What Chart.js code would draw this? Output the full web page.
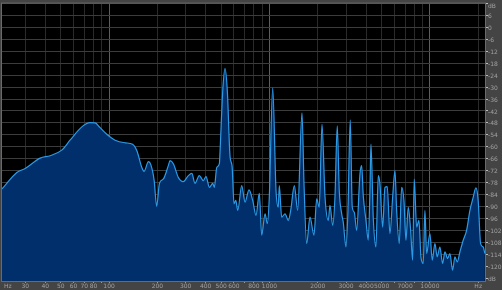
<!DOCTYPE html>
<html>
<head>
<meta charset="utf-8">
<script src="https://cdn.jsdelivr.net/npm/chart.js@4.4.0/dist/chart.umd.min.js"></script>
<style>
  html, body { margin: 0; padding: 0; background: #444; }
  canvas { display: block; }
</style>
</head>
<body>
<canvas id="spectrum" width="502" height="290"></canvas>
<script>
// frequency (Hz) and level (dB)
const freqs = [
  21.5, 26.6, 30, 37.2, 42.9, 50.7, 57.1, 67.6, 76.1, 81.8, 87.9, 96.8, 109, 126, 140, 149,
  160, 165, 176, 182, 191, 198, 206, 218, 234, 240, 252, 270, 290, 312, 328, 343, 365, 387,
  402, 422, 443, 453, 469, 487, 492, 511, 528, 546, 568, 584, 601, 616, 634, 671, 704, 745,
  786, 824, 864, 894, 938, 969, 997, 1047, 1098, 1134, 1151, 1191, 1250, 1310, 1356, 1428,
  1499, 1594, 1641, 1705, 1788, 1894, 1969, 2043, 2124, 2218, 2325, 2382, 2477, 2559, 2645,
  2722, 2818, 2883, 2997, 3084, 3187, 3280, 3376, 3494, 3664, 3754, 3841, 3993, 4127, 4229,
  4290, 4434, 4609, 4764, 4882, 5075, 5245, 5420, 5634, 5857, 6054, 6203, 6439, 6665, 6887,
  7088, 7326, 7583, 7803, 7985, 8264, 8543, 8791, 9087, 9309, 9537, 10000, 10340, 10745,
  11105, 11543, 11995, 12404, 12893, 13323, 13850, 14317, 14799, 15381, 16128, 16934, 17758,
  18616, 19352, 19991, 20698, 21486, 22020
];
const levels = [
  -81.2, -72.9, -70.9, -65.7, -64.5, -61.7, -56.7, -50, -47.9, -48, -50.4, -53.7, -56.7, -58, -58.7, -62,
  -70.4, -72.4, -67.5, -69, -77, -90, -78.4, -76.2, -69.5, -67, -68.7, -75.4, -77.5, -74.5, -73.4, -78.4, -74.5, -77,
  -75, -80.4, -78.4, -80.4, -70.4, -68.5, -62, -32, -20.7, -32, -65.3, -69.5, -88.7, -87, -92, -79.5, -87.8, -81.7,
  -87, -94.5, -83.4, -104.5, -93.7, -98.7, -85.4, -30.4, -82, -90.4, -79.5, -95.4, -93.7, -97, -92, -79.5,
  -92, -42.9, -78.7, -108.7, -95.4, -104.5, -86.2, -90.4, -48.7, -85, -97, -89.5, -99.5, -85.4, -49.5,
  -82, -93.7, -97.9, -110.4, -92, -46.5, -90.4, -92.9, -102, -73.7, -69.5, -84.5, -97, -107, -82,
  -58.7, -95.4, -110.4, -74.5, -78.7, -100.4, -80.4, -80, -103.7, -85.4, -72, -92, -108.7, -80.4, -87,
  -107, -90.4, -102, -117, -76.2, -100.4, -97, -115.4, -118.7, -92, -113.7, -103.7, -117, -108.7,
  -115.4, -110.4, -118.7, -112.9, -116.2, -113.7, -122, -115.4, -117.9, -112.9, -107, -102, -92,
  -85.4, -80.7, -87, -108.7, -110.4, -113.7
];

const xTicks = [30, 40, 50, 60, 70, 80, 90, 100, 200, 300, 400, 500, 600, 700, 800, 900,
  1000, 2000, 3000, 4000, 5000, 6000, 7000, 8000, 9000, 10000, 20000];
const xLabels = {30: '30', 40: '40', 50: '50', 60: '60', 70: '70', 80: '80', 100: '100',
  200: '200', 300: '300', 400: '400', 500: '500', 600: '600', 800: '800', 1000: '1000',
  2000: '2000', 3000: '3000', 4000: '4000', 5000: '5000', 7000: '7000', 10000: '10000', 20000: 'Hz'};
const decades = [100, 1000, 10000];
const yTicks = [12, 6, 0, -6, -12, -18, -24, -30, -36, -42, -48, -54, -60, -66, -72, -78,
  -84, -90, -96, -102, -108, -114, -120, -126];

const labelFont = { family: 'DejaVu Sans', size: 6 };
const labelColor = '#a0a0a0';

const plotBackground = {
  id: 'plotBackground',
  beforeDraw(chart) {
    const { ctx, chartArea: a } = chart;
    ctx.save();
    ctx.fillStyle = '#444';
    ctx.fillRect(0, 0, chart.width, chart.height);
    ctx.fillStyle = '#000';
    ctx.fillRect(a.left, a.top, a.right - a.left, a.bottom - a.top);
    ctx.restore();
  },
  afterDatasetsDraw(chart) {
    const { ctx, chartArea: a, scales } = chart;
    ctx.save();
    ctx.strokeStyle = '#6a6a6a';
    ctx.lineWidth = 1;
    ctx.strokeRect(a.left - 0.5, a.top - 0.5, a.right - a.left + 1, a.bottom - a.top + 1);
    // unit labels that sit where no tick label goes
    ctx.font = labelFont.size + 'px ' + labelFont.family;
    ctx.fillStyle = labelColor;
    ctx.textBaseline = 'middle';
    ctx.textAlign = 'left';
    ctx.fillText('dB', a.right + 3, scales.y.getPixelForValue(12) + 3);
    ctx.fillText('Hz', a.left + 2, a.bottom + 5);
    ctx.restore();
  }
};

new Chart(document.getElementById('spectrum'), {
  type: 'line',
  data: {
    datasets: [{
      data: freqs.map((f, i) => ({ x: f, y: levels[i] })),
      borderColor: '#2b9be8',
      backgroundColor: '#002f6c',
      borderWidth: 1.2,
      fill: 'start',
      pointRadius: 0,
      cubicInterpolationMode: 'monotone'
    }]
  },
  options: {
    responsive: false,
    animation: false,
    layout: { padding: { left: 2, top: 2, right: 0, bottom: 0 } },
    plugins: { legend: { display: false }, tooltip: { enabled: false } },
    scales: {
      x: {
        type: 'logarithmic',
        min: 21.5,
        max: 22050,
        afterBuildTicks: s => { s.ticks = xTicks.map(v => ({ value: v })); },
        afterFit: s => { s.height = 9; },
        ticks: {
          autoSkip: false,
          maxRotation: 0,
          minRotation: 0,
          padding: 0,
          font: labelFont,
          color: labelColor,
          callback: v => xLabels[v] || ''
        },
        grid: {
          color: c => decades.includes(c.tick && c.tick.value) ? '#5e5e5e' : '#2a2a2a',
          tickColor: '#9a9a9a',
          tickLength: 2
        },
        border: { color: '#6a6a6a' }
      },
      y: {
        position: 'right',
        min: -127.5,
        max: 12,
        afterBuildTicks: s => { s.ticks = yTicks.map(v => ({ value: v })); },
        afterFit: s => { s.width = 17; },
        ticks: {
          padding: 0,
          font: labelFont,
          color: labelColor,
          labelOffset: 1,
          callback: v => v === 12 ? '' : (v === -126 ? 'dB' : String(v))
        },
        grid: {
          color: '#3c3c3c',
          tickColor: '#bbbbbb',
          tickLength: 3
        },
        border: { color: '#6a6a6a' }
      }
    }
  },
  plugins: [plotBackground]
});
</script>
</body>
</html>
